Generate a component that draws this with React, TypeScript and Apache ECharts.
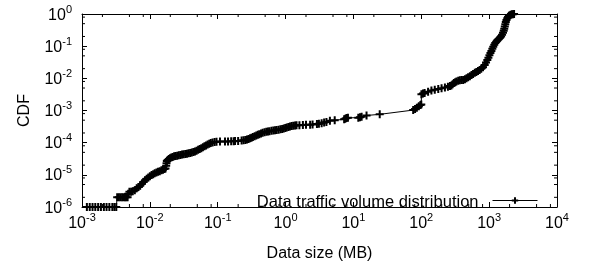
import { useEffect, useRef } from "react";
import * as echarts from "echarts";

const seriesName = "Data traffic volume distribution";

const sizeMB = [
  0.00118, 0.0013, 0.00143, 0.00157, 0.00173, 0.0019, 0.0021, 0.0023, 0.00253, 0.0028, 0.003, 0.0032,
  0.0033, 0.0035, 0.0037, 0.0039, 0.0041, 0.0043, 0.0045, 0.0047,
  0.0048, 0.005, 0.0053, 0.0056, 0.006, 0.0064, 0.0068, 0.0072, 0.0076, 0.008, 0.0085, 0.009, 0.0095,
  0.01, 0.0106, 0.0112, 0.0118, 0.0125, 0.0132, 0.014, 0.0148, 0.0156, 0.0164, 0.017, 0.0174, 0.0176,
  0.0178, 0.0183, 0.019, 0.0198, 0.0207, 0.0217, 0.0228, 0.024, 0.0253, 0.0267, 0.0282, 0.0298, 0.0315,
  0.0333, 0.0352, 0.0372, 0.0393, 0.0415, 0.0438, 0.0462, 0.0488, 0.0515, 0.0543, 0.0573, 0.0605,
  0.0638, 0.0673, 0.071, 0.075, 0.079, 0.084, 0.09, 0.096,
  0.108, 0.128, 0.142, 0.158, 0.172, 0.18, 0.2, 0.225, 0.24, 0.255, 0.27, 0.285, 0.3, 0.315, 0.33,
  0.35, 0.37, 0.39, 0.41, 0.435, 0.46, 0.49, 0.52, 0.55, 0.58, 0.62, 0.66, 0.7, 0.74, 0.79, 0.84,
  0.89, 0.94, 0.99, 1.04, 1.1, 1.16, 1.23, 1.3, 1.38, 1.45,
  1.6, 1.8, 2.0, 2.3, 2.5, 2.9, 3.1, 3.4, 3.7, 4.0, 4.5, 5.3, 7.3, 7.6, 7.9, 8.3, 11.8, 12.5, 13.2,
  15.6, 24.4, 76, 81, 86, 92, 97, 100, 100.5, 106, 112, 126, 141, 158, 178, 199, 223, 247, 265, 278,
  290, 302, 316, 330, 350, 370, 392, 414, 440, 464, 490, 520, 550, 580, 615, 648, 685, 724, 765, 812,
  860, 900, 940, 975, 1010, 1045, 1080, 1115, 1150, 1190, 1230, 1270, 1310, 1355, 1400, 1450, 1500,
  1550, 1600, 1640, 1670, 1700, 1730, 1760, 1800, 1850, 1900, 1950, 2000, 2080, 2160, 2250, 2330,
];

const cdf = [
  1e-6, 1e-6, 1e-6, 1e-6, 1e-6, 1e-6, 1e-6, 1e-6, 1e-6, 1e-6, 1e-6, 1e-6,
  2e-6, 2e-6, 2e-6, 2e-6, 2e-6, 2e-6, 2e-6, 2e-6,
  2.6e-6, 3e-6, 3e-6, 3.1e-6, 3.3e-6, 3.8e-6, 4.2e-6, 4.6e-6, 5.2e-6, 6e-6, 6.8e-6, 7.5e-6, 8.3e-6,
  9e-6, 9.8e-6, 1.05e-5, 1.12e-5, 1.18e-5, 1.24e-5, 1.3e-5, 1.38e-5, 1.45e-5, 1.52e-5, 1.58e-5, 1.9e-5, 2.3e-5,
  2.7e-5, 2.9e-5, 3.1e-5, 3.3e-5, 3.45e-5, 3.6e-5, 3.75e-5, 3.85e-5, 3.95e-5, 4.05e-5, 4.15e-5, 4.25e-5, 4.35e-5,
  4.45e-5, 4.55e-5, 4.65e-5, 4.8e-5, 4.95e-5, 5.1e-5, 5.35e-5, 5.65e-5, 6e-5, 6.35e-5, 6.75e-5, 7.2e-5,
  7.7e-5, 8.2e-5, 8.7e-5, 9.2e-5, 9.7e-5, 1.01e-4, 1.05e-4, 1.07e-4,
  1.08e-4, 1.08e-4, 1.09e-4, 1.1e-4, 1.11e-4, 1.12e-4, 1.13e-4, 1.16e-4, 1.18e-4, 1.21e-4, 1.25e-4, 1.3e-4, 1.36e-4, 1.42e-4, 1.5e-4,
  1.58e-4, 1.66e-4, 1.75e-4, 1.84e-4, 1.93e-4, 2.02e-4, 2.1e-4, 2.17e-4, 2.23e-4, 2.28e-4, 2.33e-4, 2.38e-4, 2.42e-4, 2.47e-4, 2.53e-4, 2.6e-4,
  2.68e-4, 2.77e-4, 2.87e-4, 2.97e-4, 3.07e-4, 3.17e-4, 3.27e-4, 3.36e-4, 3.43e-4, 3.48e-4,
  3.5e-4, 3.55e-4, 3.58e-4, 3.6e-4, 3.65e-4, 3.8e-4, 3.9e-4, 4.0e-4, 4.2e-4, 4.4e-4, 4.8e-4, 5.0e-4, 5.3e-4, 5.5e-4, 5.8e-4, 5.9e-4, 6.0e-4, 6.2e-4, 6.4e-4,
  7.0e-4, 7.6e-4, 1.03e-3, 1.12e-3, 1.22e-3, 1.35e-3, 1.48e-3, 1.55e-3, 3.2e-3, 3.35e-3, 3.5e-3, 3.85e-3, 4.15e-3, 4.4e-3, 4.65e-3, 4.95e-3, 5.2e-3, 5.5e-3, 5.75e-3, 6.0e-3,
  6.6e-3, 7.1e-3, 7.6e-3, 8.0e-3, 8.4e-3, 8.7e-3, 8.8e-3, 8.9e-3, 9.4e-3, 1.0e-2, 1.08e-2, 1.17e-2, 1.27e-2, 1.37e-2, 1.48e-2, 1.58e-2, 1.7e-2, 1.83e-2, 2.0e-2, 2.2e-2,
  2.6e-2, 3.1e-2, 3.7e-2, 4.4e-2, 5.2e-2, 6.1e-2, 7.1e-2, 8.3e-2, 9.6e-2, 0.11, 0.125, 0.138, 0.15, 0.16, 0.17, 0.183, 0.2,
  0.225, 0.26, 0.3, 0.35, 0.41, 0.48, 0.56, 0.65, 0.74, 0.81, 0.87, 0.91, 0.95, 0.975, 0.99, 1.0,
];

const xMin = 1e-3;
const xMax = 1e4;
const yMin = 1e-6;
const yMax = 1;
const xDecades = [1e-3, 1e-2, 1e-1, 1, 10, 100, 1000];
const yDecades = [1e-6, 1e-5, 1e-4, 1e-3, 1e-2, 1e-1];
const minorMantissas = [2, 5, 8];

export default function App() {
  const ref = useRef<HTMLDivElement>(null);
  useEffect(() => {
    const chart = echarts.init(ref.current!, null, { renderer: "svg" });
    const font = "'Liberation Sans', Arial, Helvetica, sans-serif";
    const fmt = (v: number) => `{b|10}{e|${Math.round(Math.log10(v))}}`;
    const rich = {
      b: { fontSize: 16, lineHeight: 22, fontFamily: font, color: "#000" },
      e: { fontSize: 11, lineHeight: 11, verticalAlign: "top", fontFamily: font, color: "#000" },
    };
    const xMinor: number[][] = [];
    xDecades.forEach((d) => minorMantissas.forEach((m) => xMinor.push([d * m, yMin])));
    const yMinor: number[][] = [];
    yDecades.forEach((d) => minorMantissas.forEach((m) => yMinor.push([xMin, d * m])));
    const tickStyle = { stroke: "#000", lineWidth: 1 };
    const axisLine = { show: true, onZero: false, lineStyle: { color: "#000", width: 1 } };
    const axisTick = { show: true, inside: true, length: 5, lineStyle: { color: "#000", width: 1 } };

    chart.setOption({
      animation: false,
      grid: { left: 82, right: 33, top: 14, bottom: 50 },
      legend: {
        data: [seriesName],
        right: 47,
        top: 187,
        align: "right",
        itemWidth: 45,
        itemHeight: 8,
        itemGap: 0,
        selectedMode: false,
        lineStyle: { width: 1, color: "#000" },
        textStyle: { fontSize: 16.5, fontFamily: font, color: "#000", padding: [0, 9, 0, 0] },
      },
      xAxis: [
        {
          type: "log",
          logBase: 10,
          min: xMin,
          max: xMax,
          splitNumber: 7,
          position: "bottom",
          name: "Data size (MB)",
          nameLocation: "middle",
          nameGap: 37,
          nameTextStyle: { fontSize: 16, fontFamily: font, color: "#000" },
          axisLine,
          axisTick,
          axisLabel: { formatter: fmt, rich, margin: 4, showMinLabel: true, showMaxLabel: true, interval: 0 },
          splitLine: { show: false },
        },
        {
          type: "log",
          logBase: 10,
          min: xMin,
          max: xMax,
          splitNumber: 7,
          position: "top",
          axisLine,
          axisTick,
          axisLabel: { show: false },
          splitLine: { show: false },
        },
      ],
      yAxis: [
        {
          type: "log",
          logBase: 10,
          min: yMin,
          max: yMax,
          splitNumber: 6,
          position: "left",
          name: "CDF",
          nameLocation: "middle",
          nameGap: 51,
          nameRotate: 90,
          nameTextStyle: { fontSize: 16, fontFamily: font, color: "#000" },
          axisLine,
          axisTick,
          axisLabel: { formatter: fmt, rich, margin: 10, showMinLabel: true, showMaxLabel: true },
          splitLine: { show: false },
        },
        {
          type: "log",
          logBase: 10,
          min: yMin,
          max: yMax,
          splitNumber: 6,
          position: "right",
          axisLine,
          axisTick,
          axisLabel: { show: false },
          splitLine: { show: false },
        },
      ],
      series: [
        {
          type: "custom",
          silent: true,
          xAxisIndex: 0,
          yAxisIndex: 0,
          data: xMinor,
          clip: false,
          renderItem: (_p: any, api: any) => {
            const v = api.value(0);
            const b = api.coord([v, yMin]);
            const t = api.coord([v, yMax]);
            return {
              type: "group",
              children: [
                { type: "line", shape: { x1: b[0], y1: b[1], x2: b[0], y2: b[1] - 3 }, style: tickStyle },
                { type: "line", shape: { x1: t[0], y1: t[1], x2: t[0], y2: t[1] + 3 }, style: tickStyle },
              ],
            };
          },
        },
        {
          type: "custom",
          silent: true,
          xAxisIndex: 0,
          yAxisIndex: 0,
          data: yMinor,
          clip: false,
          renderItem: (_p: any, api: any) => {
            const v = api.value(1);
            const l = api.coord([xMin, v]);
            const r = api.coord([xMax, v]);
            return {
              type: "group",
              children: [
                { type: "line", shape: { x1: l[0], y1: l[1], x2: l[0] + 3, y2: l[1] }, style: tickStyle },
                { type: "line", shape: { x1: r[0], y1: r[1], x2: r[0] - 3, y2: r[1] }, style: tickStyle },
              ],
            };
          },
        },
        {
          name: seriesName,
          type: "line",
          xAxisIndex: 0,
          yAxisIndex: 0,
          data: sizeMB.map((x, i) => [x, cdf[i]]),
          symbol: "path://M0,5L10,5M5,0L5,10",
          symbolSize: 8,
          showSymbol: true,
          showAllSymbol: true,
          lineStyle: { color: "#000", width: 1 },
          itemStyle: { color: "#000", borderColor: "#000", borderWidth: 2 },
          emphasis: { disabled: true },
          z: 3,
        },
      ],
    });
    return () => chart.dispose();
  }, []);
  return <div ref={ref} style={{ position: "fixed", left: 0, top: 0, width: 590, height: 265 }} />;
}
